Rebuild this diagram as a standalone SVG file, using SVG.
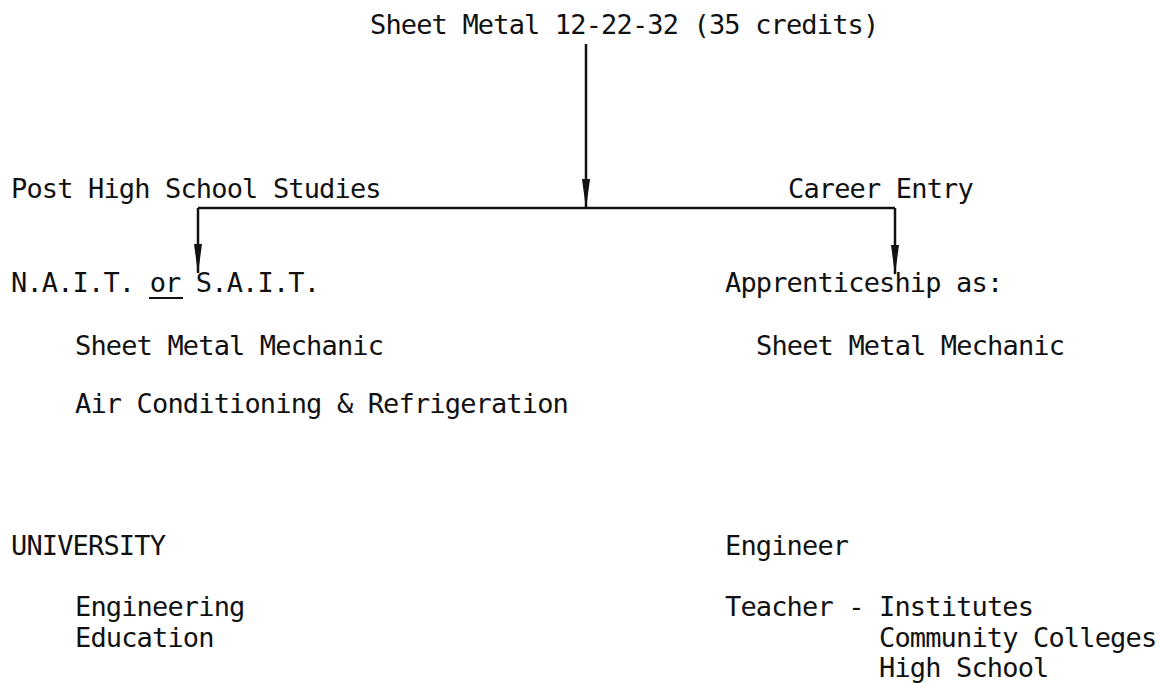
<svg xmlns="http://www.w3.org/2000/svg" width="1159" height="683" viewBox="0 0 1159 683">
<style>
text{font-family:"DejaVu Sans Mono","Liberation Mono",monospace;font-size:27px;letter-spacing:-0.85px;fill:#111}
.ln{stroke:#111;stroke-width:2.5;fill:none}
.ul{stroke:#111;stroke-width:2}
</style>
<defs>
<marker id="ah" markerUnits="userSpaceOnUse" markerWidth="30" markerHeight="10" viewBox="0 0 30 10" refX="29" refY="5" orient="auto">
<path d="M0,1 L30,5 L0,9 z" fill="#111"/>
</marker>
</defs>
<rect width="1159" height="683" fill="#fff"/>
<g id="connectors">
<path class="ln" d="M586,44 V208" marker-end="url(#ah)"/>
<path class="ln" d="M198,208 H895"/>
<path class="ln" d="M198,208 V273" marker-end="url(#ah)"/>
<path class="ln" d="M895,208 V274" marker-end="url(#ah)"/>
</g>
<g id="title"><text x="370" y="34">Sheet Metal 12-22-32 (35 credits)</text></g>
<g id="post-high-school"><text x="11" y="198">Post High School Studies</text></g>
<g id="career-entry"><text x="788" y="198">Career Entry</text></g>
<g id="nait-sait">
<text x="11" y="292">N.A.I.T. or S.A.I.T.</text>
<line class="ul" x1="149" y1="298" x2="183" y2="298"/>
<text x="75" y="355">Sheet Metal Mechanic</text>
<text x="75" y="413">Air Conditioning &amp; Refrigeration</text>
</g>
<g id="apprenticeship">
<text x="725" y="292">Apprenticeship as:</text>
<text x="756" y="355">Sheet Metal Mechanic</text>
</g>
<g id="university">
<text x="11" y="555">UNIVERSITY</text>
<text x="75" y="616">Engineering</text>
<text x="75" y="647">Education</text>
</g>
<g id="careers">
<text x="725" y="555">Engineer</text>
<text x="725" y="616">Teacher - Institutes</text>
<text x="879" y="647">Community Colleges</text>
<text x="879" y="677">High School</text>
</g>
</svg>
